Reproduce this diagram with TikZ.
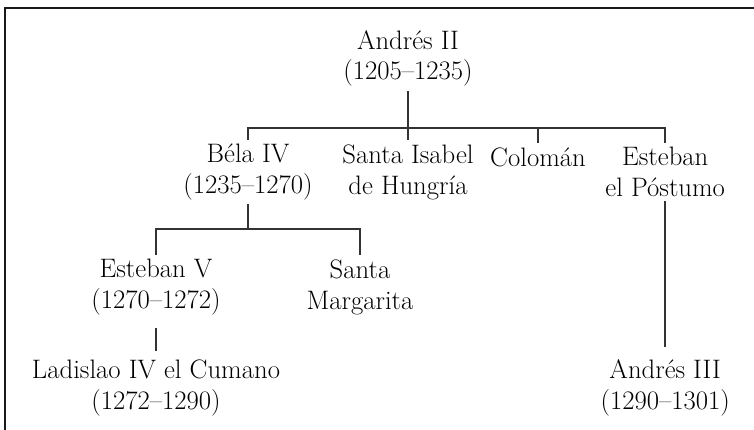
\documentclass[tikz,border=0pt]{standalone}
\usetikzlibrary{positioning}
\tikzset{
    person/.style={align=center, font=\fontsize{19}{22}\selectfont, inner sep=0.1cm},
    link/.style={line width=1.1pt, draw=black!80},
    frame/.style={line width=1.5pt, draw=black!90}
}

\begin{document}
\begin{tikzpicture}
        \useasboundingbox (0,0) rectangle (18.85,-10.75);
        % top and left edge of the box
        \draw[frame] (18.85,-0.2) -- (0.125,-0.2) -- (0.125,-10.75);

        % generation 1
        \node[person] (andres2) at (10.2,-1.46) {Andrés II\\(1205--1235)};

        % generation 2
        \node[person] (bela4) at (6.2,-4.3) {Béla IV\\(1235--1270)};
        \node[person] (isabel) at (10.2,-4.3) {Santa Isabel\\de Hungría};
        \node[person] (coloman) at (13.45,-3.93) {Colomán};
        \node[person] (esteban) at (16.63,-4.3) {Esteban\\el Póstumo};

        % generation 3
        \node[person] (esteban5) at (3.9,-7.18) {Esteban V\\(1270--1272)};
        \node[person] (margarita) at (9.0,-7.18) {Santa\\Margarita};

        % generation 4
        \node[person] (ladislao) at (3.9,-9.7) {Ladislao IV el Cumano\\(1272--1290)};
        \node[person] (andres3) at (16.63,-9.7) {Andrés III\\(1290--1301)};

        % connectors
        \coordinate (bar1) at (10.2,-3.2);
        \coordinate (bar2) at (6.2,-5.73);
        \draw[link] (andres2.south) -- (isabel.north);
        \draw[link] (bela4.north) |- (bar1) -| (esteban.north);
        \draw[link] (coloman.north) -- (coloman.north |- bar1);
        \draw[link] (bela4.south) -- (bar2);
        \draw[link] (esteban5.north) |- (bar2) -| (margarita.north);
        \draw[link, shorten <=0.2cm, shorten >=0.12cm] (esteban5.south) -- (ladislao.north);
        \draw[link, shorten >=0.2cm] (esteban.south) -- (andres3.north);
\end{tikzpicture}
\end{document}
